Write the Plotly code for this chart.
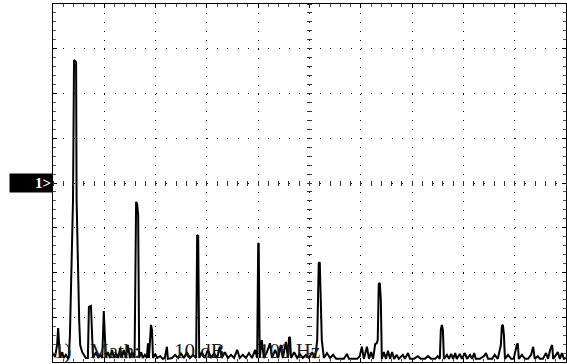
import plotly.graph_objects as go

# Spectrum trace (frequency in Hz, level in dB, 10 dB/div, 100 Hz/div)
freq_hz = [
    0, 4, 8, 10, 12, 14, 18, 21, 25, 29, 31, 33, 39, 41, 45, 46, 51, 53, 57, 60,
    64, 68, 70, 74, 76, 78, 84, 88, 92, 96, 99, 101, 103, 107, 111, 115, 119, 123, 127, 131,
    134, 138, 142, 146, 150, 154, 159, 162, 164, 166, 168, 172, 175, 179, 183, 185, 187, 191, 193, 195,
    199, 203, 209, 214, 218, 222, 224, 232, 238, 244, 249, 255, 261, 267, 273, 279, 281, 283, 285, 290,
    296, 302, 308, 314, 320, 325, 329, 335, 341, 347, 353, 359, 364, 370, 376, 382, 388, 394, 398, 400,
    401, 403, 407, 411, 417, 423, 427, 433, 439, 444, 448, 454, 458, 460, 462, 464, 470, 476, 481, 487,
    493, 499, 505, 511, 515, 518, 520, 524, 528, 534, 540, 546, 552, 559, 567, 573, 577, 585, 593, 598,
    602, 606, 610, 612, 616, 620, 624, 628, 631, 633, 635, 637, 639, 641, 645, 649, 653, 657, 661, 665,
    670, 674, 682, 686, 692, 696, 704, 711, 717, 725, 731, 737, 745, 750, 754, 756, 758, 760, 762, 768,
    772, 776, 780, 784, 787, 793, 797, 803, 807, 813, 817, 821, 824, 832, 840, 844, 848, 856, 861, 867,
    873, 875, 877, 879, 881, 887, 893, 898, 904, 906, 908, 914, 920, 926, 932, 936, 939, 945, 949, 955,
    961, 965, 969, 973, 975, 980, 984, 988, 992, 996, 1000,
]
level_db = [
    -38.0, -38.9, -36.2, -32.4, -36.2, -39.1, -37.8, -39.1, -38.4, -39.1, -38.7, -34.0, -3.8, 27.5, 27.0, -3.8, -30.6, -36.2, -37.8, -38.4,
    -39.1, -39.1, -27.7, -27.5, -35.1, -39.1, -37.8, -39.1, -38.4, -39.1, -28.6, -32.8, -39.1, -37.8, -39.1, -37.3, -39.1, -38.0, -39.1, -36.9,
    -39.1, -37.3, -39.1, -36.2, -39.1, -37.8, -39.1, -4.2, -4.7, -7.2, -39.1, -37.8, -39.1, -38.4, -39.1, -35.8, -39.1, -31.7, -32.8, -39.1,
    -38.2, -39.1, -38.7, -39.3, -39.1, -36.6, -39.3, -39.1, -38.4, -39.1, -38.0, -39.1, -37.8, -39.1, -38.4, -39.1, -11.6, -11.8, -39.1, -37.8,
    -39.1, -37.3, -39.1, -38.0, -39.1, -36.6, -39.1, -37.8, -39.1, -38.4, -39.1, -37.3, -39.1, -38.4, -39.1, -38.0, -39.1, -37.3, -39.1, -13.4,
    -13.6, -39.1, -35.1, -39.1, -37.8, -35.8, -39.1, -37.3, -39.1, -36.2, -39.1, -35.5, -39.1, -34.6, -34.4, -39.1, -37.8, -39.1, -38.2, -39.1,
    -38.4, -39.1, -37.8, -39.1, -35.1, -17.9, -17.7, -35.1, -39.1, -38.0, -39.1, -38.4, -39.3, -39.3, -39.3, -38.2, -39.3, -39.3, -39.3, -38.7,
    -36.6, -39.3, -37.3, -36.6, -39.3, -37.8, -39.3, -36.0, -35.8, -35.1, -22.6, -22.3, -26.1, -39.3, -37.8, -39.3, -37.5, -39.3, -37.8, -39.3,
    -38.4, -39.3, -38.4, -39.3, -38.0, -39.3, -39.3, -38.7, -39.3, -39.3, -38.7, -39.3, -39.3, -38.7, -39.3, -32.8, -31.7, -32.8, -39.3, -38.4,
    -39.3, -38.2, -39.3, -38.0, -39.3, -38.2, -39.3, -38.0, -39.3, -38.4, -39.3, -38.0, -39.3, -39.3, -38.7, -38.0, -39.3, -39.3, -38.4, -39.3,
    -36.2, -32.0, -31.7, -34.0, -39.3, -38.4, -39.3, -39.3, -36.2, -35.8, -39.3, -38.4, -39.3, -39.3, -38.4, -36.6, -39.3, -38.7, -39.3, -39.3,
    -38.0, -39.3, -37.3, -36.2, -39.3, -38.4, -37.8, -39.3, -38.0, -39.3, -39.1,
]

x_range = [0, 1000]
y_range = [-40, 40]
caption_words = ["1)", "Math:", "10 dB", "100 Hz"]
caption_hz = [0, 70, 234, 400]
channel_label = "1>"
channel_ref_db = 0

fig = go.Figure()
fig.add_trace(go.Scatter(x=freq_hz, y=level_db, mode="lines",
                         line=dict(color="black", width=2), showlegend=False,
                         hoverinfo="skip"))

axis_common = dict(showticklabels=False, zeroline=False, showline=True,
                   linecolor="black", linewidth=1, mirror="ticks", automargin=False,
                   gridcolor="black", gridwidth=1, ticks="inside",
                   tickcolor="black", ticklen=4, tickmode="linear")
overlay_common = dict(anchor="free", showgrid=False, showline=False, zeroline=False,
                      showticklabels=False, automargin=False, tickmode="linear",
                      ticks="outside", ticklen=5, tickcolor="#333")

fig.update_layout(
    template="none",
    width=567, height=364,
    margin=dict(l=53, r=1, t=4, b=2, pad=0),
    paper_bgcolor="white", plot_bgcolor="white",
    showlegend=False,
    xaxis=dict(range=x_range, tick0=0, dtick=100, griddash="1px,7.95px",
               minor=dict(dtick=20, tick0=0, ticks="inside", ticklen=3,
                          tickcolor="#555", showgrid=False),
               **axis_common),
    yaxis=dict(range=y_range, tick0=-40, dtick=10, griddash="1px,9.26px",
               minor=dict(dtick=2, tick0=-40, ticks="inside", ticklen=3,
                          tickcolor="#555", showgrid=False),
               **axis_common),
    xaxis2=dict(range=x_range, overlaying="x", position=0.507, tick0=0, dtick=20,
                **overlay_common),
    yaxis2=dict(range=y_range, overlaying="y", position=0.505, tick0=-40, dtick=2,
                **overlay_common),
)

# invisible helper trace so the overlay axes get drawn
fig.add_trace(go.Scatter(x=[None], y=[None], xaxis="x2", yaxis="y2",
                         showlegend=False, hoverinfo="skip"))

for word, hz in zip(caption_words, caption_hz):
    fig.add_annotation(x=hz, xref="x", xanchor="left", y=0, yref="paper",
                       yanchor="bottom", yshift=-2, text=word, showarrow=False,
                       borderpad=0,
                       font=dict(family="Liberation Serif", size=21, color="#1a1a1a"))

fig.add_annotation(x=0, xref="paper", xanchor="right", y=channel_ref_db, yref="y",
                   yanchor="middle", text="<b>" + channel_label.replace(">", "&gt;") + "</b>",
                   showarrow=False, bgcolor="black", width=40, height=16, align="right",
                   borderpad=1, font=dict(family="Liberation Serif", size=15, color="white"))

fig.write_html("out.html", config={"displayModeBar": False},
               post_script="document.body.style.margin='0';document.body.style.padding='0';")
